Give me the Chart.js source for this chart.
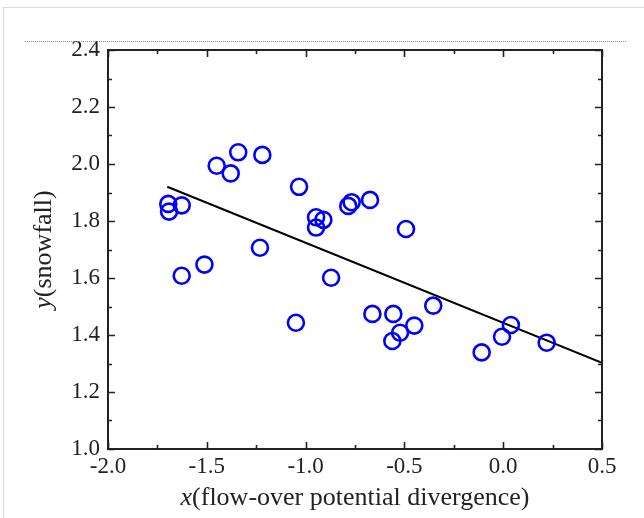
<!DOCTYPE html>
<html>
<head>
<meta charset="utf-8">
<script src="https://cdn.jsdelivr.net/npm/chart.js@4.4.1/dist/chart.umd.min.js"></script>
<style>
html, body { margin: 0; padding: 0; background: #fff; }
#wrap { position: relative; width: 644px; height: 518px; overflow: hidden; }
#frame { position: absolute; left: 3px; top: 7px; width: 700px; height: 600px;
  border-left: 1px solid #d9d9d9; border-top: 1px solid #d9d9d9; }
#c { position: absolute; left: 0; top: 0; }
</style>
</head>
<body>
<div id="wrap">
  <div id="frame"></div>
  <canvas id="c" width="644" height="518"></canvas>
</div>
<script>
// snowfall vs flow-over potential divergence
const xValues = [-1.695, -1.691, -1.627, -1.627, -1.512, -1.450, -1.379, -1.341, -1.219, -1.231,
  -1.049, -1.033, -0.947, -0.947, -0.910, -0.871, -0.784, -0.767, -0.674, -0.662,
  -0.492, -0.556, -0.522, -0.561, -0.450, -0.354, -0.109, -0.006, 0.039, 0.220];
const yValues = [1.860, 1.833, 1.855, 1.608, 1.647, 1.994, 1.967, 2.041, 2.032, 1.706,
  1.443, 1.920, 1.813, 1.777, 1.804, 1.601, 1.853, 1.866, 1.874, 1.474,
  1.772, 1.474, 1.408, 1.379, 1.433, 1.503, 1.339, 1.394, 1.435, 1.373];

// fitted line end points
const fitX = [-1.7, 0.5];
const fitY = [1.92, 1.302];

const xTicks = [-2.0, -1.5, -1.0, -0.5, 0.0, 0.5];
const xMinorTicks = [-1.75, -1.25, -0.75, -0.25, 0.25];
const yTicks = [1.0, 1.2, 1.4, 1.6, 1.8, 2.0, 2.2, 2.4];
const yMinorTicks = [1.1, 1.3, 1.5, 1.7, 1.9, 2.1, 2.3];

const xTitleItalic = 'x';
const xTitleRest = '(flow-over potential divergence)';
const yTitleItalic = 'y';
const yTitleRest = '(snowfall)';

const serif = '"Liberation Serif", "Times New Roman", serif';

const points = xValues.map((x, i) => ({ x: x, y: yValues[i] }));
const fitLine = fitX.map((x, i) => ({ x: x, y: fitY[i] }));

// draw the box, inward ticks, the dotted rule and axis titles
const decor = {
  id: 'decor',
  afterDraw(chart) {
    const ctx = chart.ctx;
    const a = chart.chartArea;
    const xs = chart.scales.x, ys = chart.scales.y;
    ctx.save();

    // dotted rule above the plot
    ctx.strokeStyle = '#8c8c8c';
    ctx.lineWidth = 1;
    ctx.setLineDash([1, 1]);
    ctx.beginPath();
    ctx.moveTo(25, 41.5);
    ctx.lineTo(627, 41.5);
    ctx.stroke();
    ctx.setLineDash([]);

    ctx.strokeStyle = '#222';
    ctx.lineWidth = 2;
    ctx.strokeRect(a.left, a.top, a.right - a.left, a.bottom - a.top);

    ctx.lineWidth = 1.6;
    const tickX = (vals, len) => {
      vals.forEach(v => {
        const px = Math.round(xs.getPixelForValue(v)) + 0.5;
        ctx.beginPath();
        ctx.moveTo(px, a.bottom); ctx.lineTo(px, a.bottom - len);
        ctx.moveTo(px, a.top); ctx.lineTo(px, a.top + len);
        ctx.stroke();
      });
    };
    const tickY = (vals, len) => {
      vals.forEach(v => {
        const py = Math.round(ys.getPixelForValue(v)) + 0.5;
        ctx.beginPath();
        ctx.moveTo(a.left, py); ctx.lineTo(a.left + len, py);
        ctx.moveTo(a.right, py); ctx.lineTo(a.right - len, py);
        ctx.stroke();
      });
    };
    tickX(xTicks, 7);
    tickX(xMinorTicks, 4);
    tickY(yTicks, 7);
    tickY(yMinorTicks, 4);

    // axis titles, italic variable name then the rest
    ctx.fillStyle = '#222';
    ctx.textBaseline = 'middle';
    const size = 26;
    const itFont = 'italic ' + size + 'px ' + serif;
    const rgFont = size + 'px ' + serif;

    ctx.font = itFont;
    let w1 = ctx.measureText(xTitleItalic).width;
    ctx.font = rgFont;
    let w2 = ctx.measureText(xTitleRest).width;
    let cx = (a.left + a.right) / 2;
    let start = cx - (w1 + w2) / 2;
    ctx.textAlign = 'left';
    ctx.font = itFont;
    ctx.fillText(xTitleItalic, start, 498);
    ctx.font = rgFont;
    ctx.fillText(xTitleRest, start + w1, 498);

    ctx.font = itFont;
    w1 = ctx.measureText(yTitleItalic).width;
    ctx.font = rgFont;
    w2 = ctx.measureText(yTitleRest).width;
    ctx.translate(44, (a.top + a.bottom) / 2);
    ctx.rotate(-Math.PI / 2);
    start = -(w1 + w2) / 2;
    ctx.font = itFont;
    ctx.fillText(yTitleItalic, start, 0);
    ctx.font = rgFont;
    ctx.fillText(yTitleRest, start + w1, 0);

    ctx.restore();
  }
};

new Chart(document.getElementById('c').getContext('2d'), {
  type: 'scatter',
  data: {
    datasets: [
      {
        label: 'fit',
        type: 'line',
        data: fitLine,
        borderColor: '#000',
        borderWidth: 2,
        pointRadius: 0,
        fill: false,
        order: 2
      },
      {
        label: 'snowfall',
        data: points,
        borderColor: '#0000ff',
        backgroundColor: 'rgba(0,0,0,0)',
        borderWidth: 2.6,
        pointRadius: 8,
        pointHoverRadius: 8,
        order: 1
      }
    ]
  },
  options: {
    responsive: false,
    animation: false,
    events: [],
    layout: { padding: { left: 0, right: 42, top: 50, bottom: 0 } },
    plugins: {
      legend: { display: false },
      tooltip: { enabled: false }
    },
    scales: {
      x: {
        type: 'linear',
        min: -2.0,
        max: 0.5,
        border: { display: false },
        grid: { display: false, drawTicks: false },
        ticks: {
          stepSize: 0.5,
          padding: 4,
          color: '#222',
          font: { family: serif, size: 23 },
          callback: v => Number(v).toFixed(1)
        },
        afterFit: s => { s.height = 69; }
      },
      y: {
        type: 'linear',
        min: 1.0,
        max: 2.4,
        border: { display: false },
        grid: { display: false, drawTicks: false },
        ticks: {
          stepSize: 0.2,
          padding: 8,
          color: '#222',
          font: { family: serif, size: 23 },
          callback: v => Number(v).toFixed(1)
        },
        afterFit: s => { s.width = 108; }
      }
    }
  },
  plugins: [decor]
});
</script>
</body>
</html>
